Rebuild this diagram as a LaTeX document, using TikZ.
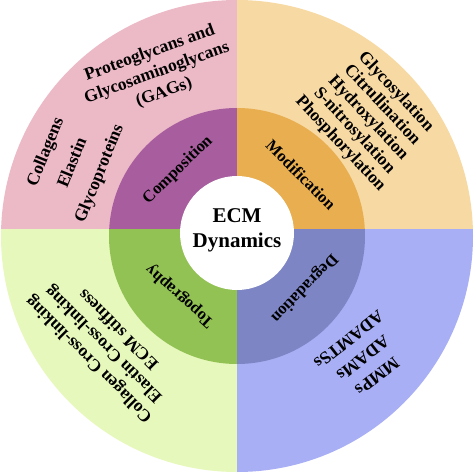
\documentclass[tikz,border=0pt]{standalone}
\usepackage{fontspec}
\setmainfont{Liberation Serif}
\usepackage{xcolor}
\definecolor{comp-outer}{RGB}{236,185,199}
\definecolor{comp-inner}{RGB}{168,94,158}
\definecolor{mod-outer}{RGB}{247,217,163}
\definecolor{mod-inner}{RGB}{232,174,80}
\definecolor{topo-outer}{RGB}{230,248,187}
\definecolor{topo-inner}{RGB}{147,194,84}
\definecolor{degr-outer}{RGB}{168,175,245}
\definecolor{degr-inner}{RGB}{125,133,196}

\begin{document}
\begin{tikzpicture}[x=1pt, y=1pt,
    ringlabel/.style={align=center, inner sep=0pt, font=\fontsize{16.5}{18}\selectfont\bfseries},
    itemlist/.style={align=center, inner sep=0pt, font=\fontsize{17.5}{#1}\selectfont\bfseries},
    hub/.style={align=center, inner sep=0pt, font=\fontsize{21}{25}\selectfont\bfseries}]

    \useasboundingbox (-237,-238) rectangle (237,236);

    % Outer ring
    \begin{scope}
        \clip (0,0) circle (236);
        \fill[comp-outer] (-240,7) rectangle (0,240);
        \fill[mod-outer] (0,7) rectangle (240,240);
        \fill[topo-outer] (-240,-240) rectangle (0,7);
        \fill[degr-outer] (0,-240) rectangle (240,7);
    \end{scope}

    % Inner ring
    \begin{scope}
        \clip (0,0) circle (128);
        \fill[comp-inner] (-130,7) rectangle (0,130);
        \fill[mod-inner] (0,7) rectangle (130,130);
        \fill[topo-inner] (-130,-130) rectangle (0,7);
        \fill[degr-inner] (0,-130) rectangle (130,7);
    \end{scope}

    % Centre
    \fill[white] (0,3) circle (57);
    \node[hub] (ecm) at (0,6) {ECM\\Dynamics};

    % Ring labels
    \node[ringlabel, rotate=44] (comp) at (-59,66) {Composition};
    \node[ringlabel, rotate=-45] (mod) at (64,61) {Modification};
    \node[ringlabel, rotate=138] (topo) at (-57,-60) {Topography};
    \node[ringlabel, rotate=226] (degr) at (67,-52) {Degradation};

    % Outer items
    \node[itemlist=21, rotate=20] (gags) at (-80,163) {Proteoglycans and\\Glycosaminoglycans\\(GAGs)};
    \node[itemlist=29, rotate=68] (fibres) at (-164,73) {Collagens\\Elastin\\Glycoproteins};
    \node[itemlist=19, rotate=-47] (ptms) at (131,118) {Glycosylation\\Citrullination\\Hydroxylation\\S-nitrosylation\\Phosphorylation};
    \node[itemlist=21, rotate=135] (links) at (-134,-109) {Collagen Cross-linking\\Elastin Cross-linking\\ECM stiffness};
    \node[itemlist=23, rotate=218] (enzymes) at (126,-122) {MMPs\\ADAMs\\ADAMTSs};
\end{tikzpicture}
\end{document}
